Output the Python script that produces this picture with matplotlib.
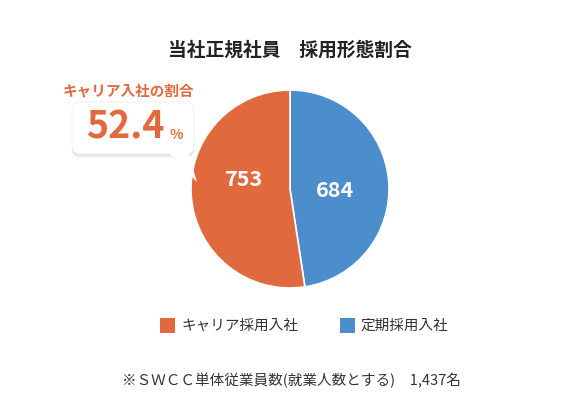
import matplotlib
matplotlib.use("Agg")
import matplotlib.pyplot as plt
from matplotlib.patches import FancyBboxPatch, Polygon

plt.rcParams['font.family'] = ['Noto Sans CJK JP', 'DejaVu Sans']

labels = ['キャリア採用入社', '定期採用入社']
values = [753, 684]
colors = ['#E0693D', '#4B8ECB']
title = '当社正規社員　採用形態割合'
note = '※ＳＷＣＣ単体従業員数(就業人数とする)　1,437名'

W, H = 580, 401
fig = plt.figure(figsize=(W/100, H/100), dpi=100)
fig.patch.set_facecolor('white')

r = 99
ax = fig.add_axes([(290-r)/W, 1-(189+r)/H, 2*r/W, 2*r/H])
ax.pie(values[::-1], colors=colors[::-1], startangle=90, counterclock=False,
       wedgeprops=dict(edgecolor='white', linewidth=1.2), radius=1)
ax.set_xlim(-1, 1); ax.set_ylim(-1, 1); ax.set_aspect('auto')
ax.text(-0.47, 0.1, str(values[0]), color='white', fontsize=15.5, fontweight='bold', ha='center', va='center')
ax.text(0.45, -0.02, str(values[1]), color='white', fontsize=15.5, fontweight='bold', ha='center', va='center')

ov = fig.add_axes([0, 0, 1, 1]); ov.set_xlim(0, W); ov.set_ylim(H, 0); ov.axis('off')
ov.set_zorder(5)
ov.text(290, 50, title, fontsize=13.5, fontweight='bold', color='#222222', ha='center', va='center')

for off, a in [(4, 0.05), (2, 0.06)]:
    ov.add_patch(FancyBboxPatch((72, 102+off), 122, 52, boxstyle='round,pad=0,rounding_size=8',
                                fc='black', ec='none', alpha=a))
ov.add_patch(FancyBboxPatch((72, 102), 122, 52, boxstyle='round,pad=0,rounding_size=8', fc='white', ec='#eeeeee', lw=0.6))
ov.add_patch(Polygon([[168, 152], [188, 152], [197, 182]], closed=True, fc='white', ec='none'))
ov.text(128, 90, 'キャリア入社の割合', fontsize=10.5, fontweight='bold', color=colors[0], ha='center', va='center')
pct = values[0] / sum(values) * 100
ov.text(125, 127, f'{pct:.1f}', fontsize=27, fontweight='bold', color=colors[0], ha='center', va='center')
ov.text(176, 135, '%', fontsize=10, fontweight='bold', color=colors[0], ha='center', va='center')

ov.add_patch(plt.Rectangle((160, 318), 15, 15, fc=colors[0]))
ov.text(181, 326, labels[0], fontsize=10.5, color='#333333', va='center')
ov.add_patch(plt.Rectangle((340, 318), 15, 15, fc=colors[1]))
ov.text(361, 326, labels[1], fontsize=10.5, color='#333333', va='center')

ov.text(291, 381, note, fontsize=10.5, color='#333333', ha='center', va='center')

fig.savefig('out.png', dpi=100, facecolor='white')
